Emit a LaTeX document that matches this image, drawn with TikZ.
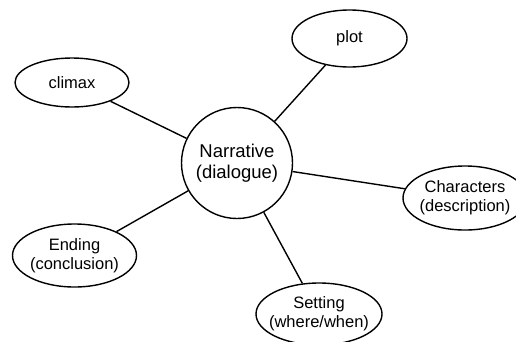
\documentclass[tikz,border=0pt]{standalone}
\usepackage{fontspec}
\setmainfont{Liberation Sans}
\usetikzlibrary{shapes.geometric}

\tikzset{
    topic/.style={draw, ellipse, line width=1.4pt, inner sep=0pt, align=center,
        font=\fontsize{16.5}{19}\selectfont},
    hub/.style={draw, circle, line width=1.4pt, inner sep=0pt, align=center,
        minimum size=111pt, font=\fontsize{18.5}{20.5}\selectfont}
}

\begin{document}
\begin{tikzpicture}[x=1pt, y=-1pt, line width=1.4pt]
                        \useasboundingbox (0,0) rectangle (516,341);

                        \node[hub] (narr) at (237, 163) {Narrative\\(dialogue)};
                        \node[topic, minimum width=115pt, minimum height=57pt] (plot) at (349.5, 38.5) {plot};
                        \node[topic, minimum width=114pt, minimum height=49pt] (climax) at (72, 82.5) {climax};
                        \node[topic, minimum width=124pt, minimum height=63pt, inner xsep=-1pt] (end) at (74.5, 255.5) {Ending\\(conclusion)};
                        \node[topic, minimum width=124pt, minimum height=64pt, inner xsep=-6pt] (chars) at (465, 198) {Characters\\(description)};
                        \node[topic, minimum width=126pt, minimum height=62pt, inner xsep=-6pt] (set) at (319, 314) {Setting\\(where/when)};

                        \draw
                        (narr) -- (plot)
                        (narr) -- (climax)
                        (narr) -- (chars)
                        (narr) -- (end)
                        (narr) -- (set);
                    \end{tikzpicture}
\end{document}
